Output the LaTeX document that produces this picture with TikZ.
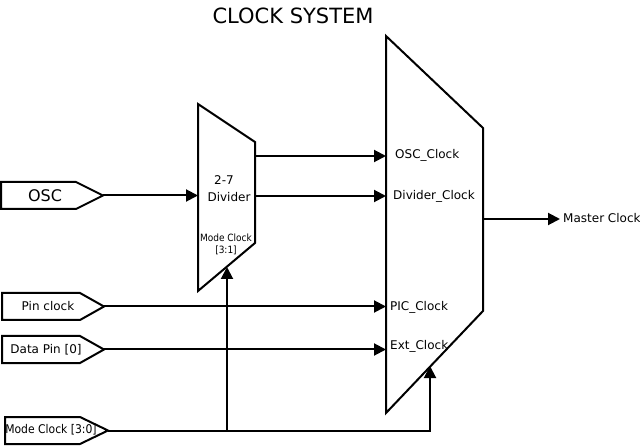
\documentclass[tikz,border=0pt]{standalone}
\usepackage{fontspec}
\setmainfont{DejaVu Sans}
\newfontfamily\condfont{DejaVu Sans Condensed}
\usetikzlibrary{arrows.meta}
\begin{document}
\begin{tikzpicture}[x=1pt,y=-1pt,
  box/.style={draw=black,line width=2pt,line join=miter},
  conn/.style={draw=black,line width=2pt,-{Triangle[length=12pt,width=12pt]}},
  lbl/.style={inner sep=0pt,font=\fontsize{12}{14}\selectfont},
  clbl/.style={inner sep=0pt,font=\condfont\fontsize{12}{14}\selectfont},
  slbl/.style={inner sep=0pt,align=center,font=\condfont\fontsize{10}{12}\selectfont}]
\useasboundingbox (0,0) rectangle (640,446);
% title
\node[inner sep=0pt,font=\fontsize{21}{24}\selectfont] (title) at (293,16) {CLOCK SYSTEM};
% input boxes
\draw[box] (1,182) -- (76,182) -- (103,195.5) -- (76,209) -- (1,209) -- cycle;
\coordinate (osc) at (103,195.5);
\node[inner sep=0pt,font=\fontsize{16}{18}\selectfont] (osct) at (45,196) {OSC};
\draw[box] (2,293) -- (80,293) -- (104,306.5) -- (80,320) -- (2,320) -- cycle;
\coordinate (pin) at (104,306.5);
\node[lbl] (pint) at (48,306) {Pin clock};
\draw[box] (2,336) -- (80,336) -- (104,349.5) -- (80,363) -- (2,363) -- cycle;
\coordinate (dat) at (104,349.5);
\node[lbl] (datt) at (46,350) {Data Pin [0]};
\draw[box] (5,417) -- (80,417) -- (108,430.5) -- (80,444) -- (5,444) -- cycle;
\coordinate (mc) at (108,430.5);
\node[clbl] (mct) at (51,430) {Mode Clock [3:0]};
% divider mux
\draw[box] (198,104) -- (255,142) -- (255,243) -- (198,291) -- cycle;
\coordinate (divin) at (198,195.5);
\coordinate (divo1) at (255,156);
\coordinate (divo2) at (255,196);
\coordinate (divmc) at (227,267);
\node[lbl] (d27) at (224,180) {2-7};
\node[lbl] (ddiv) at (229,197) {Divider};
\node[slbl] (dmc) at (226,244) {Mode Clock\\{}[3:1]};
% big mux
\draw[box] (386,36) -- (483,128) -- (483,311) -- (386,413) -- cycle;
\coordinate (bi1) at (386,156);
\coordinate (bi2) at (386,196);
\coordinate (bi3) at (386,306.5);
\coordinate (bi4) at (386,349.5);
\coordinate (bmc) at (430,366);
\coordinate (bout) at (483,219);
\coordinate (mout) at (560,219);
\node[lbl,anchor=west] (l1) at (395,155) {OSC\_Clock};
\node[lbl,anchor=west] (l2) at (393,196) {Divider\_Clock};
\node[lbl,anchor=west] (l3) at (390,307) {PIC\_Clock};
\node[lbl,anchor=west] (l4) at (390,346) {Ext\_Clock};
\node[lbl,anchor=west] (l5) at (563,218) {Master Clock};
% connectors
\draw[conn] (osc) -- (divin);
\draw[conn] (divo1) -- (bi1);
\draw[conn] (divo2) -- (bi2);
\draw[conn] (pin) -- (bi3);
\draw[conn] (dat) -- (bi4);
\draw[conn] (bout) -- (mout);
\draw[conn] (mc) -| (bmc);
\coordinate (jn) at (227,430.5);
\draw[conn] (jn) -- (divmc);
\end{tikzpicture}
\end{document}
